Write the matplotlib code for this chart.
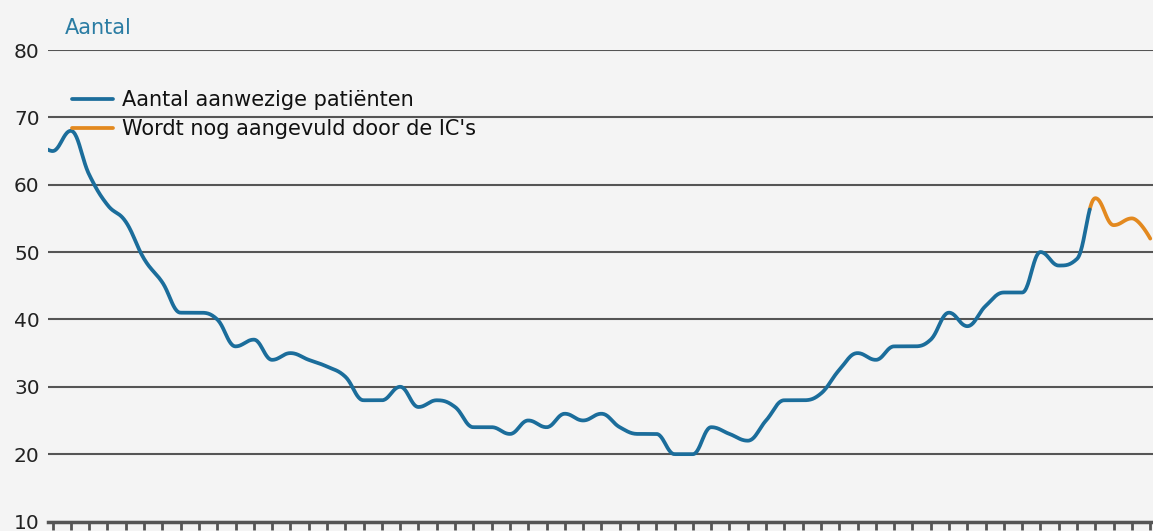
import numpy as np
import matplotlib
matplotlib.use("Agg")
import matplotlib.pyplot as plt

# daily number of IC patients present
days = list(range(0, 62))
patients = [67, 65, 68, 61.5, 57, 54.5, 49, 45.5, 41, 41,
            40, 36, 37, 34, 35, 34, 33, 31.5, 28, 28,
            30, 27, 28, 27, 24, 24, 23, 25, 24, 26,
            25, 26, 24, 23, 23, 20, 20, 24, 23, 22,
            25, 28, 28, 29, 32.5, 35, 34, 36, 36, 37,
            41, 39, 42, 44, 44, 50, 48, 49, 58, 54,
            55, 52]
last_complete = 57.7   # after this the numbers are still being filled in
yticks = [10, 20, 30, 40, 50, 60, 70, 80]
labels = ["Aantal aanwezige patiënten", "Wordt nog aangevuld door de IC's"]

BLUE = "#1b6d9b"
ORANGE = "#e3891f"
BG = "#f4f4f4"


def spline(x, y, n=24):
    """smooth the line with bezier control points (spline style of the original)"""
    x = np.asarray(x, float)
    y = np.asarray(y, float)
    lx, ly = x.copy(), y.copy()
    rx, ry = x.copy(), y.copy()
    for i in range(1, len(x) - 1):
        lcx = (1.5 * x[i] + x[i - 1]) / 2.5
        lcy = (1.5 * y[i] + y[i - 1]) / 2.5
        rcx = (1.5 * x[i] + x[i + 1]) / 2.5
        rcy = (1.5 * y[i] + y[i + 1]) / 2.5
        corr = (rcy - lcy) * (rcx - x[i]) / (rcx - lcx) + y[i] - rcy
        lcy += corr
        rcy += corr
        if lcy > max(y[i - 1], y[i]):
            lcy = max(y[i - 1], y[i]); rcy = 2 * y[i] - lcy
        elif lcy < min(y[i - 1], y[i]):
            lcy = min(y[i - 1], y[i]); rcy = 2 * y[i] - lcy
        if rcy > max(y[i + 1], y[i]):
            rcy = max(y[i + 1], y[i]); lcy = 2 * y[i] - rcy
        elif rcy < min(y[i + 1], y[i]):
            rcy = min(y[i + 1], y[i]); lcy = 2 * y[i] - rcy
        lx[i], ly[i], rx[i], ry[i] = lcx, lcy, rcx, rcy
    t = np.linspace(0, 1, n, endpoint=False)
    a, b, c, d = (1 - t)**3, 3 * (1 - t)**2 * t, 3 * (1 - t) * t**2, t**3
    xs, ys = [], []
    for i in range(len(x) - 1):
        xs.append(a * x[i] + b * rx[i] + c * lx[i + 1] + d * x[i + 1])
        ys.append(a * y[i] + b * ry[i] + c * ly[i + 1] + d * y[i + 1])
    xs.append([x[-1]])
    ys.append([y[-1]])
    return np.concatenate(xs), np.concatenate(ys)


fig = plt.figure(figsize=(11.53, 5.31), dpi=100, facecolor=BG)
ax = fig.add_axes([48 / 1153, 1 - 521.5 / 531, 1 - 48 / 1153, (521.5 - 50) / 531])
ax.set_facecolor(BG)

xs, ys = spline(days, patients)
done = xs <= last_complete
late = ~done | np.roll(~done, -1)
ax.plot(xs[late], ys[late], color=ORANGE, lw=2.7, solid_capstyle="round",
        label=labels[1], zorder=3)
ax.plot(xs[done], ys[done], color=BLUE, lw=2.7, solid_capstyle="round",
        label=labels[0], zorder=4)

ax.set_ylim(10, 80)
ax.set_xlim(0.75, 61.15)
ax.set_yticks(yticks)
ax.yaxis.grid(True, color="#555555", lw=1.5)
ax.set_axisbelow(True)
ax.set_xticks(days[1:])
ax.set_xticklabels([])
ax.tick_params(axis="x", length=6, width=2, color="#555555", direction="out")
ax.tick_params(axis="y", length=0, labelsize=14.5, labelcolor="#222222", pad=6)
for s in ["top", "right", "left"]:
    ax.spines[s].set_visible(False)
ax.spines["bottom"].set_color("#555555")
ax.spines["bottom"].set_linewidth(2.5)

fig.text(65 / 1153, 1 - 28 / 531, "Aantal", color="#2a7ca3", fontsize=15,
         va="center", ha="left")

h, l = ax.get_legend_handles_labels()
leg = ax.legend(h[::-1], l[::-1], loc="upper left", frameon=False,
                bbox_to_anchor=(72 / 1153, 1 - 90 / 531), bbox_transform=fig.transFigure,
                borderpad=0, borderaxespad=0, handlelength=1.95, handletextpad=0.45,
                labelspacing=0.45, fontsize=15)
for t in leg.get_texts():
    t.set_color("#111111")

fig.savefig("out.png", dpi=100, facecolor=BG)
